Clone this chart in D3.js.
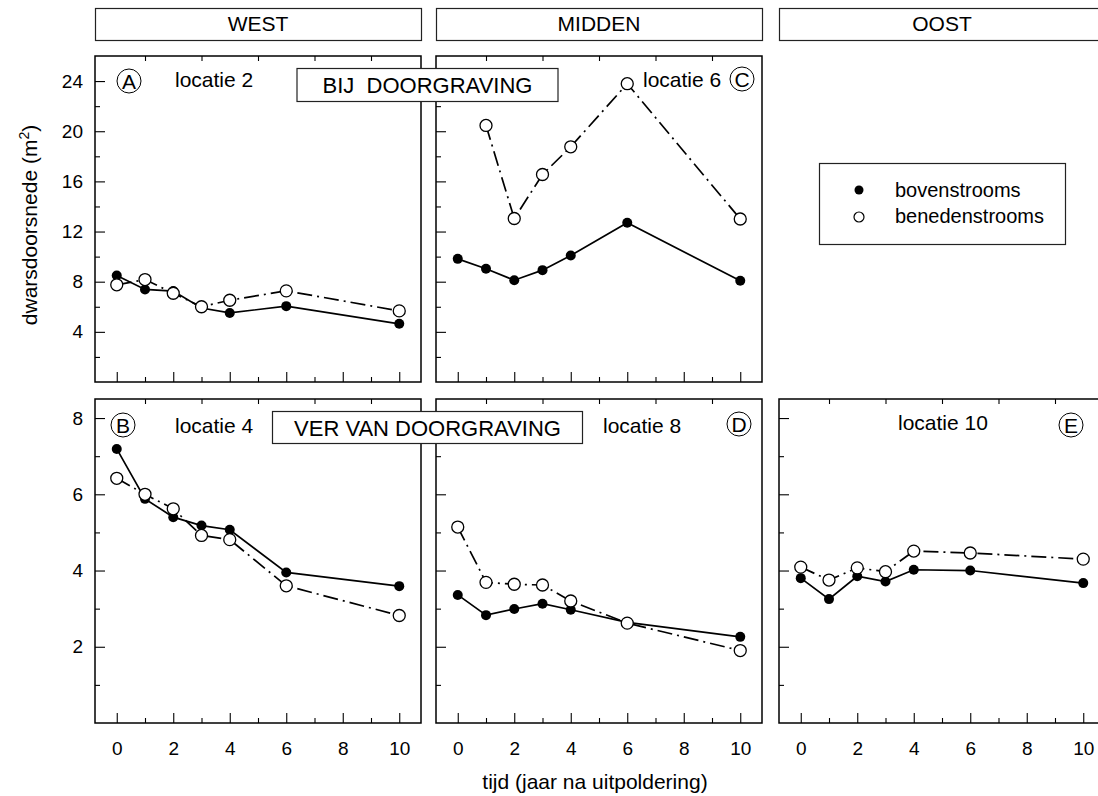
<!DOCTYPE html>
<html>
<head>
<meta charset="utf-8">
<script src="https://cdn.jsdelivr.net/npm/d3@7"></script>
<style>
  html, body { margin: 0; padding: 0; background: #fff; }
  svg { display: block; font-family: "Liberation Sans", Arial, sans-serif; }
</style>
</head>
<body>
<svg id="chart" width="1098" height="796"></svg>
<script>
// Measurement years (jaar na uitpoldering)
const years = [0, 1, 2, 3, 4, 6, 10];

// Cross-section area (m2) per location, upstream (boven) and downstream (beneden)
const locatie2Boven   = [8.5, 7.38, 7.25, 5.9, 5.51, 6.05, 4.64];
const locatie2Beneden = [7.75, 8.17, 7.08, 6.0, 6.52, 7.27, 5.67];
const locatie6Boven   = [9.82, 9.03, 8.12, 8.92, 10.09, 12.7, 8.07];
const locatie6Beneden = [null, 20.46, 13.04, 16.55, 18.76, 23.79, 13.0];
const locatie4Boven   = [7.19, 5.88, 5.4, 5.18, 5.07, 3.95, 3.59];
const locatie4Beneden = [6.42, 6.0, 5.62, 4.92, 4.81, 3.6, 2.82];
const locatie8Boven   = [3.36, 2.83, 2.99, 3.13, 2.97, 2.64, 2.26];
const locatie8Beneden = [5.14, 3.69, 3.64, 3.62, 3.2, 2.62, 1.9];
const locatie10Boven   = [3.8, 3.25, 3.85, 3.71, 4.02, 4.0, 3.67];
const locatie10Beneden = [4.09, 3.75, 4.07, 3.97, 4.51, 4.46, 4.3];

// Column headers and row labels
const regions = ["WEST", "MIDDEN", "OOST"];
const rowLabels = ["BIJ  DOORGRAVING", "VER VAN DOORGRAVING"];
const seriesNames = ["bovenstrooms", "benedenstrooms"];

// Axis ticks
const xMajorTicks = [0, 2, 4, 6, 8, 10];
const xMinorTicks = [1, 3, 5, 7, 9];
const yTopMajor = [4, 8, 12, 16, 20, 24];
const yTopMinor = [2, 6, 10, 14, 18, 22];
const yBottomMajor = [2, 4, 6, 8];
const yBottomMinor = [1, 3, 5, 7];

const xLabel = "tijd (jaar na uitpoldering)";
const yLabel = "dwarsdoorsnede (m";

// Panels: column, row, location name, marker letter, data
const panels = [
  { col: 0, row: 0, name: "locatie 2", letter: "A", boven: locatie2Boven, beneden: locatie2Beneden },
  { col: 1, row: 0, name: "locatie 6", letter: "C", boven: locatie6Boven, beneden: locatie6Beneden },
  { col: 0, row: 1, name: "locatie 4", letter: "B", boven: locatie4Boven, beneden: locatie4Beneden },
  { col: 1, row: 1, name: "locatie 8", letter: "D", boven: locatie8Boven, beneden: locatie8Beneden },
  { col: 2, row: 1, name: "locatie 10", letter: "E", boven: locatie10Boven, beneden: locatie10Beneden }
];

// Layout
const colLeft = [95, 436, 779];
const panelW = 326;
const rows = [
  { top: 56, bottom: 382, domain: [0, 26], major: yTopMajor, minor: yTopMinor },
  { top: 399, bottom: 723, domain: [0, 8.5], major: yBottomMajor, minor: yBottomMinor }
];

const svg = d3.select("#chart");
const FONT_TICK = 19;
const FONT_LABEL = 21;

// Column headers
regions.forEach((r, i) => {
  const g = svg.append("g");
  g.append("rect")
    .attr("x", colLeft[i] + 0.5).attr("y", 8.5)
    .attr("width", panelW).attr("height", 32)
    .attr("fill", "#fff").attr("stroke", "#222").attr("stroke-width", 1.2);
  g.append("text")
    .attr("x", colLeft[i] + panelW / 2).attr("y", 31)
    .attr("text-anchor", "middle").attr("font-size", FONT_LABEL)
    .text(r);
});

const xScales = colLeft.map(l => d3.scaleLinear().domain([-0.77, 10.77]).range([l, l + panelW]));
const yScales = rows.map(r => d3.scaleLinear().domain(r.domain).range([r.bottom, r.top]));

function circledLetter(g, cx, cy, letter) {
  g.append("circle").attr("cx", cx).attr("cy", cy).attr("r", 12)
    .attr("fill", "none").attr("stroke", "#000").attr("stroke-width", 1);
  g.append("text").attr("x", cx).attr("y", cy + 7.5)
    .attr("text-anchor", "middle").attr("font-size", 21).text(letter);
}

panels.forEach(p => {
  const x = xScales[p.col];
  const y = yScales[p.row];
  const r = rows[p.row];
  const left = colLeft[p.col];
  const g = svg.append("g");

  // bottom axis: major + minor ticks pointing inward
  const bottomMajor = d3.axisBottom(x).tickValues(xMajorTicks)
    .tickSizeInner(-10).tickSizeOuter(0).tickPadding(19);
  if (p.row === 0) bottomMajor.tickFormat("");
  const gb = g.append("g").attr("transform", `translate(0,${r.bottom})`).call(bottomMajor);
  gb.selectAll("text").attr("font-size", FONT_TICK).attr("font-family", null).attr("fill", "#000");
  g.append("g").attr("transform", `translate(0,${r.bottom})`)
    .call(d3.axisBottom(x).tickValues(xMinorTicks).tickSizeInner(-5).tickSizeOuter(0).tickFormat(""));

  // top edge minor ticks
  g.append("g").attr("transform", `translate(0,${r.top})`)
    .call(d3.axisTop(x).tickValues(xMinorTicks).tickSizeInner(-5).tickSizeOuter(0).tickFormat(""));

  // left axis
  const leftMajor = d3.axisLeft(y).tickValues(r.major)
    .tickSizeInner(-10).tickSizeOuter(0).tickPadding(12);
  if (p.col !== 0) leftMajor.tickFormat("");
  const gl = g.append("g").attr("transform", `translate(${left},0)`).call(leftMajor);
  gl.selectAll("text").attr("font-size", FONT_TICK).attr("font-family", null).attr("fill", "#000");
  g.append("g").attr("transform", `translate(${left},0)`)
    .call(d3.axisLeft(y).tickValues(r.minor).tickSizeInner(-5).tickSizeOuter(0).tickFormat(""));

  g.selectAll(".domain").remove();
  g.selectAll(".tick line").attr("stroke", "#000").attr("stroke-width", 1.1);

  // panel frame
  g.append("rect")
    .attr("x", left).attr("y", r.top)
    .attr("width", panelW).attr("height", r.bottom - r.top)
    .attr("fill", "none").attr("stroke", "#000").attr("stroke-width", 1.5);

  const line = d3.line()
    .defined(d => d.v != null)
    .x(d => x(d.t)).y(d => y(d.v));

  const boven = years.map((t, i) => ({ t, v: p.boven[i] }));
  const beneden = years.map((t, i) => ({ t, v: p.beneden[i] }));

  g.append("path").datum(boven).attr("d", line)
    .attr("fill", "none").attr("stroke", "#000").attr("stroke-width", 1.7);
  g.append("path").datum(beneden.filter(d => d.v != null)).attr("d", line)
    .attr("fill", "none").attr("stroke", "#000").attr("stroke-width", 1.7)
    .attr("stroke-dasharray", "15,5,2,5");

  g.selectAll(".boven").data(boven.filter(d => d.v != null)).enter()
    .append("circle").attr("class", "boven")
    .attr("cx", d => x(d.t)).attr("cy", d => y(d.v)).attr("r", 5)
    .attr("fill", "#000");
  g.selectAll(".beneden").data(beneden.filter(d => d.v != null)).enter()
    .append("circle").attr("class", "beneden")
    .attr("cx", d => x(d.t)).attr("cy", d => y(d.v)).attr("r", 6)
    .attr("fill", "#fff").attr("stroke", "#000").attr("stroke-width", 1.3);
});

// Panel annotations: location names and letters
const ann = svg.append("g").attr("font-size", FONT_LABEL);
ann.append("text").attr("x", 175).attr("y", 87).text(panels[0].name);
circledLetter(ann, 129, 81, panels[0].letter);
ann.append("text").attr("x", 643).attr("y", 87).text(panels[1].name);
circledLetter(ann, 742, 79, panels[1].letter);
ann.append("text").attr("x", 175).attr("y", 433).text(panels[2].name);
circledLetter(ann, 123, 425, panels[2].letter);
ann.append("text").attr("x", 603).attr("y", 433).text(panels[3].name);
circledLetter(ann, 739, 424, panels[3].letter);
ann.append("text").attr("x", 898).attr("y", 430).text(panels[4].name);
circledLetter(ann, 1071, 425, panels[4].letter);

// Row label boxes crossing the column gap
function rowBox(x0, y0, w, h, label, baseline) {
  svg.append("rect").attr("x", x0).attr("y", y0).attr("width", w).attr("height", h)
    .attr("fill", "#fff").attr("stroke", "#222").attr("stroke-width", 1.2);
  svg.append("text").attr("x", x0 + w / 2).attr("y", baseline)
    .attr("text-anchor", "middle").attr("font-size", 22)
    .attr("xml:space", "preserve").style("white-space", "pre")
    .text(label);
}
rowBox(297, 68.5, 261, 33, rowLabels[0], 93);
rowBox(272.5, 411.5, 310, 32, rowLabels[1], 436);

// Legend
const lg = svg.append("g");
lg.append("rect").attr("x", 819.5).attr("y", 163.5).attr("width", 246).attr("height", 81)
  .attr("fill", "#fff").attr("stroke", "#222").attr("stroke-width", 1.2);
lg.append("circle").attr("cx", 859).attr("cy", 190).attr("r", 4.5).attr("fill", "#000");
lg.append("circle").attr("cx", 859).attr("cy", 217).attr("r", 5)
  .attr("fill", "#fff").attr("stroke", "#000").attr("stroke-width", 1.2);
lg.append("text").attr("x", 895).attr("y", 197).attr("font-size", 20).text(seriesNames[0]);
lg.append("text").attr("x", 895).attr("y", 223).attr("font-size", 20).text(seriesNames[1]);

// Axis titles
svg.append("text").attr("x", 595).attr("y", 789)
  .attr("text-anchor", "middle").attr("font-size", FONT_LABEL).text(xLabel);

const yl = svg.append("text")
  .attr("transform", "translate(37,225) rotate(-90)")
  .attr("text-anchor", "middle").attr("font-size", FONT_LABEL);
yl.append("tspan").text(yLabel);
yl.append("tspan").attr("font-size", 14).attr("dy", -8).text("2");
yl.append("tspan").attr("dy", 8).text(")");
</script>
</body>
</html>
